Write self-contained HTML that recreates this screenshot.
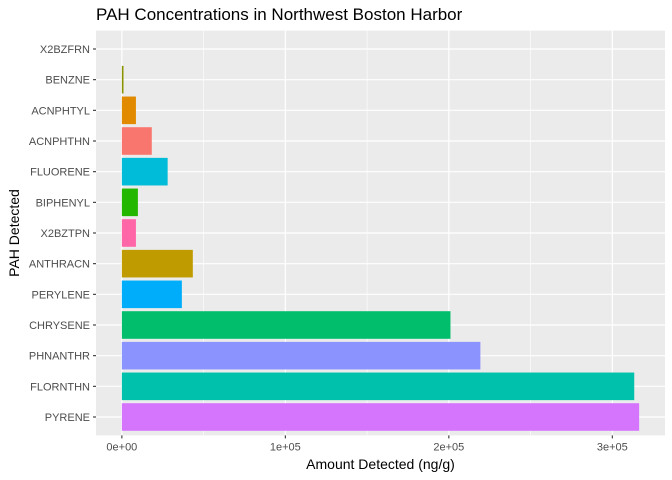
<!DOCTYPE html>
<html><head><meta charset="utf-8"><style>body{margin:0;background:#fff}svg{display:block;font-family:"Liberation Sans",sans-serif}</style></head>
<body>
<svg id="c" width="672" height="480"></svg>
<script>
const categories=["X2BZFRN","BENZNE","ACNPHTYL","ACNPHTHN","FLUORENE","BIPHENYL","X2BZTPN","ANTHRACN","PERYLENE","CHRYSENE","PHNANTHR","FLORNTHN","PYRENE"];
const values=[0,1000,8600,18300,28000,9800,8600,43400,36700,201000,219300,313400,316400];
const colors=["#F8766D","#DE8C00","#E18A00","#F8766D","#00BCD8","#24B700","#FF66A8","#C09B00","#00ADFA","#00BE6C","#8B93FF","#00C1AB","#D575FE"];
colors[0]="#999";colors[1]="#8B9400";colors[2]="#E18A00";
const xTicks=[0,100000,200000,300000];
const xTickLabels=["0e+00","1e+05","2e+05","3e+05"];
const NS="http://www.w3.org/2000/svg",svg=document.getElementById('c');
const L=96,R=665,T=30.6,B=435.4;
const xmax=Math.max(...values);
const x=v=>L+(R-L)*(v+0.05*xmax)/(1.1*xmax);
const step=(B-T)/(categories.length-1+1.2);
const y=i=>T+step*(0.6+i);
function el(t,a,p){const e=document.createElementNS(NS,t);for(const k in a)e.setAttribute(k,a[k]);(p||svg).appendChild(e);return e;}
const panel=el('rect',{x:L,y:T,width:R-L,height:B-T,fill:'#EBEBEB'});


for(let i=0;i<xTicks.length-1;i++){const m=(xTicks[i]+xTicks[i+1])/2;const g=el('line',{x1:x(m),x2:x(m),y1:T,y2:B,stroke:'#fff','stroke-width':0.6});

}
xTicks.forEach((t,i)=>{const g=el('line',{x1:x(t),x2:x(t),y1:T,y2:B,stroke:'#fff','stroke-width':1.2});


const tk=el('line',{x1:x(t),x2:x(t),y1:B,y2:B+3,stroke:'#333','stroke-width':1.1});


const tx=el('text',{x:x(t),y:B+15,'text-anchor':'middle','font-size':11,fill:'#4D4D4D'});tx.textContent=xTickLabels[i];

});
categories.forEach((c,i)=>{const g=el('line',{x1:L,x2:R,y1:y(i),y2:y(i),stroke:'#fff','stroke-width':1.2});


const tk=el('line',{x1:L-3,x2:L,y1:y(i),y2:y(i),stroke:'#333','stroke-width':1.1});


const tx=el('text',{x:L-6,y:y(i)+4,'text-anchor':'end','font-size':11,fill:'#4D4D4D'});tx.textContent=c;

});
categories.forEach((c,i)=>{const h=step*0.9;const b=el('rect',{x:x(0),y:y(i)-h/2,width:Math.max(x(values[i])-x(0),0),height:h,fill:colors[i]});

});
const t=el('text',{x:96,y:20,'font-size':17,fill:'#000'});t.textContent='PAH Concentrations in Northwest Boston Harbor';


const xt=el('text',{x:(L+R)/2,y:469,'text-anchor':'middle','font-size':14,fill:'#000'});xt.textContent='Amount Detected (ng/g)';


const yt=el('text',{x:0,y:0,'text-anchor':'middle','font-size':14,fill:'#000',transform:`translate(19,${(T+B)/2}) rotate(-90)`});yt.textContent='PAH Detected';


</script>
</body></html>
